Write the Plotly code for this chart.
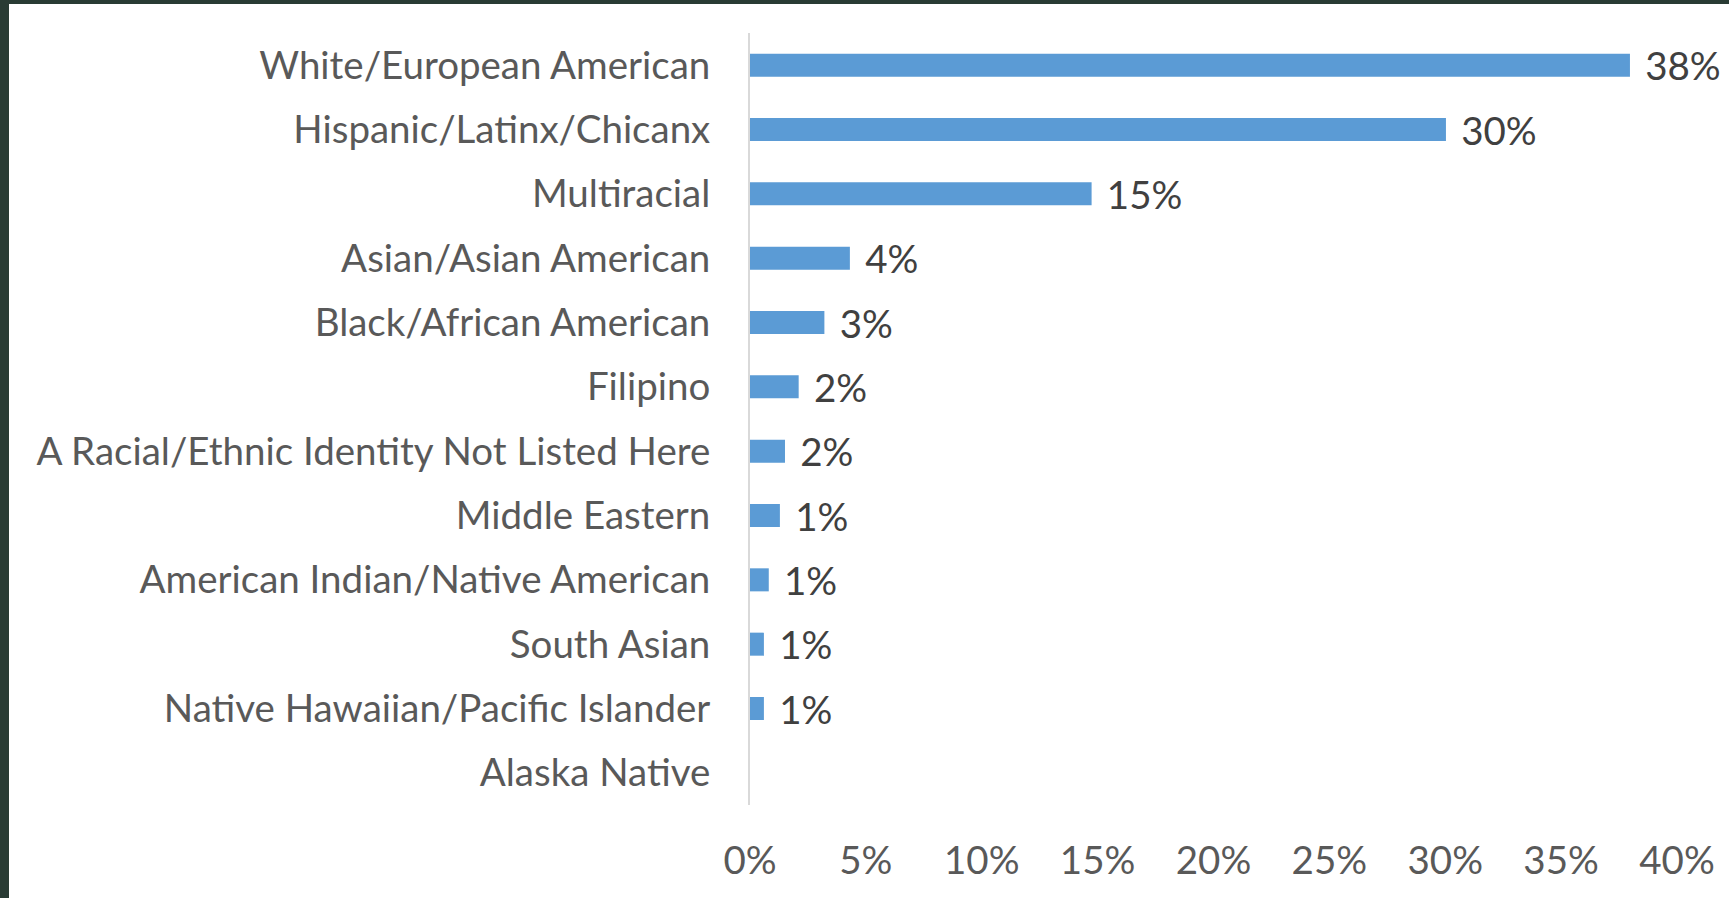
import plotly.graph_objects as go

categories = [
    "White/European American",
    "Hispanic/Latinx/Chicanx",
    "Multiracial",
    "Asian/Asian American",
    "Black/African American",
    "Filipino",
    "A Racial/Ethnic Identity Not Listed Here",
    "Middle Eastern",
    "American Indian/Native American",
    "South Asian",
    "Native Hawaiian/Pacific Islander",
    "Alaska Native",
]
values = [0.3797, 0.3003, 0.1474, 0.0431, 0.0321, 0.0210, 0.0151, 0.0129, 0.0081, 0.0060, 0.0060, 0.0]
labels = [f"{round(v * 100):.0f}%" if v > 0 else "" for v in values]
tick_vals = [0, 0.05, 0.10, 0.15, 0.20, 0.25, 0.30, 0.35, 0.40]
tick_text = ["0%", "5%", "10%", "15%", "20%", "25%", "30%", "35%", "40%"]

W, H = 1729, 898
ML, MR, MT, MB = 750, 52, 33, 93
PW, PH = W - ML - MR, H - MT - MB

FONT = "Lato"
FS = 38.5

fig = go.Figure(
    go.Bar(
        x=values,
        y=categories,
        orientation="h",
        marker=dict(color="#5B9BD5", line=dict(width=0)),
        text=["\u00a0\u200a" + t if t else "" for t in labels],
        textposition="outside",
        textfont=dict(family=FONT, size=FS, color="#404040"),
        constraintext="none",
        cliponaxis=False,
        hoverinfo="skip",
    )
)

fig.update_layout(
    width=W,
    height=H,
    margin=dict(l=ML, r=MR, t=MT, b=MB, pad=0),
    paper_bgcolor="#293B34",
    plot_bgcolor="white",
    bargap=0.642,
    showlegend=False,
    shapes=[
        dict(
            type="rect",
            xref="paper",
            yref="paper",
            x0=(9 - ML) / PW,
            x1=1.2,
            y0=-0.3,
            y1=(MT + PH - 4) / PH,
            fillcolor="white",
            line=dict(width=0),
            layer="below",
        )
    ],
    xaxis=dict(
        range=[0, 0.40],
        tickvals=tick_vals,
        ticktext=tick_text,
        showgrid=False,
        zeroline=False,
        showline=False,
        ticks="outside",
        ticklen=22,
        tickcolor="rgba(0,0,0,0)",
        tickfont=dict(family=FONT, size=FS, color="#595959"),
        fixedrange=True,
    ),
    yaxis=dict(
        autorange="reversed",
        showgrid=False,
        zeroline=False,
        showline=True,
        linecolor="#D9D9D9",
        linewidth=2,
        ticks="outside",
        ticklen=30,
        tickcolor="rgba(0,0,0,0)",
        tickfont=dict(family=FONT, size=FS, color="#595959"),
        fixedrange=True,
    ),
)

fig.write_html(
    "out.html",
    config={"displayModeBar": False},
    post_script="document.body.style.margin='0';document.body.style.overflow='hidden';",
)
